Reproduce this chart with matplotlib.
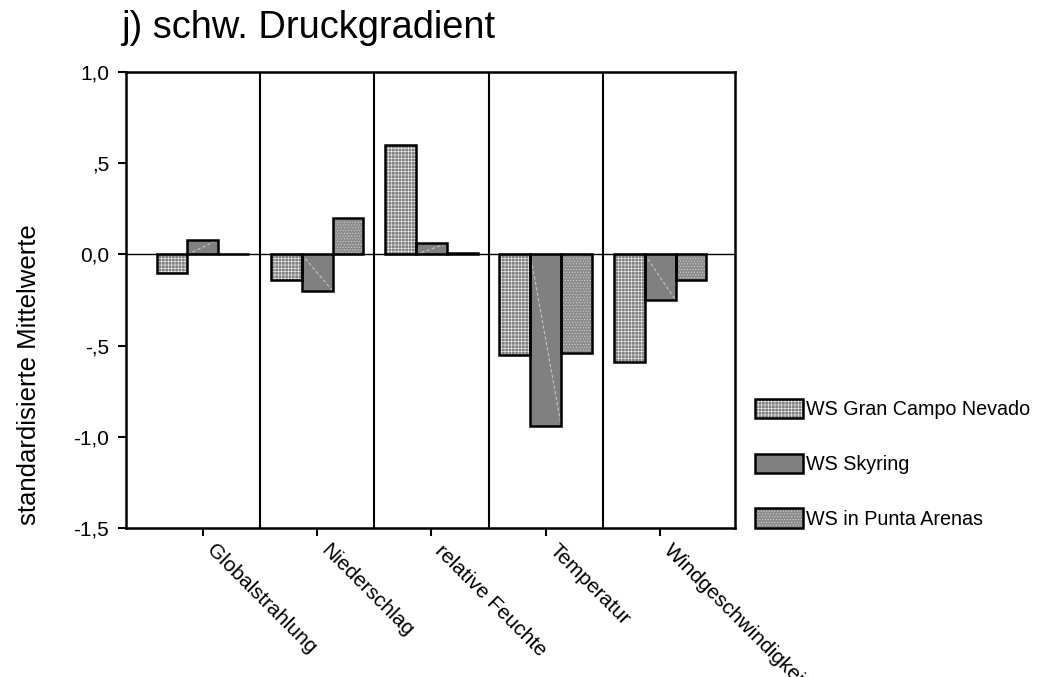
import matplotlib
matplotlib.use("Agg")
import matplotlib.pyplot as plt
import matplotlib.transforms as mtransforms
from matplotlib.patches import Rectangle
from matplotlib.legend_handler import HandlerTuple
import numpy as np

plt.rcParams['font.family'] = ['Liberation Sans', 'DejaVu Sans']
plt.rcParams['hatch.linewidth'] = 0.4

categories = ["Globalstrahlung", "Niederschlag", "relative Feuchte", "Temperatur", "Windgeschwindigkeit"]
series_names = ["WS Gran Campo Nevado", "WS Skyring", "WS in Punta Arenas"]
gcn = [-0.10, -0.14, 0.60, -0.55, -0.59]
skyring = [0.08, -0.20, 0.06, -0.94, -0.25]
punta = [0.0, 0.20, 0.01, -0.54, -0.14]
yticks = [1.0, 0.5, 0.0, -0.5, -1.0, -1.5]
yticklabels = ["1,0", ",5", "0,0", "-,5", "-1,0", "-1,5"]

fig = plt.figure(figsize=(10.43, 6.77), dpi=100)
ax = fig.add_axes([126/1043, 1-528/677, (735-126)/1043, (528-72)/677])

x = np.arange(len(categories))
w = 0.27
styles = [
    dict(facecolor="#828282", hatch="+++++", edgecolor="#f4f4f4"),
    dict(facecolor="#808080", hatch=None, edgecolor="#808080"),
    dict(facecolor="#8c8c8c", hatch="......", edgecolor="#d8d8d8"),
]
handles = []
for i, (vals, st) in enumerate(zip([gcn, skyring, punta], styles)):
    pos = x + (i - 1) * w
    ax.bar(pos, vals, width=w, facecolor=st["facecolor"], hatch=st["hatch"],
           edgecolor=st["edgecolor"], linewidth=0, zorder=2)
    ax.bar(pos, vals, width=w, facecolor="none", edgecolor="black", linewidth=1.8, zorder=3)
    fill = Rectangle((0, 0), 1, 1, facecolor=st["facecolor"], hatch=st["hatch"],
                     edgecolor=st["edgecolor"], linewidth=0)
    outline = Rectangle((0, 0), 1, 1, facecolor="none", edgecolor="black", linewidth=1.8)
    handles.append((fill, outline))
    if i == 1:
        for p, v in zip(pos, vals):
            ax.plot([p - w/2, p + w/2], [0, v], color="#c4c4c4", lw=0.8,
                    ls=(0, (3, 2)), zorder=2.5)

ax.axhline(0, color="black", linewidth=1.0, zorder=4)
for s in range(len(categories) - 1):
    ax.axvline(s + 0.5, color="black", linewidth=1.5, zorder=1)

ax.set_xlim(-0.672, len(categories) - 1 + 0.655)
ax.set_ylim(-1.5, 1.0)
ax.set_yticks(yticks)
ax.set_yticklabels(yticklabels, fontsize=15)
ax.set_xticks(x)
ax.set_xticklabels(categories, rotation=-45, ha="left", va="baseline", rotation_mode="anchor", fontsize=15)
ax.tick_params(axis="both", direction="out", length=6, width=1.5, color="black")
ax.tick_params(axis="x", pad=11)
ax.tick_params(axis="y", pad=6)
offset = mtransforms.ScaledTranslation(3/100, 0, fig.dpi_scale_trans)
for lab in ax.get_xticklabels():
    lab.set_transform(lab.get_transform() + offset)
for sp in ax.spines.values():
    sp.set_linewidth(1.8)

fig.text(29/1043, 1-375/677, "standardisierte Mittelwerte", fontsize=18.5, rotation=90,
         ha="center", va="center")

fig.text(122/1043, 1-28/677, "j) schw. Druckgradient", fontsize=27.4, va="center", ha="left")

leg = fig.legend(handles, series_names, loc="upper left", bbox_to_anchor=(747/1043, 1-391/677),
                 frameon=False, fontsize=14.2, handlelength=2.45, handleheight=1.12,
                 labelspacing=1.75, handletextpad=0.12, borderaxespad=0,
                 handler_map={tuple: HandlerTuple(ndivide=1, pad=0)})

fig.savefig("out.png", dpi=100)
